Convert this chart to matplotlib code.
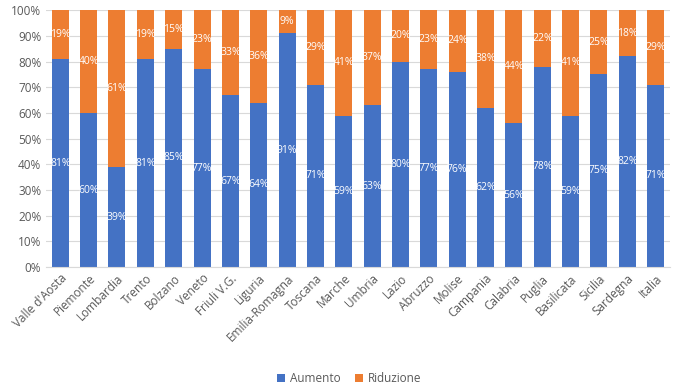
import numpy as np
import matplotlib.pyplot as plt
from matplotlib.ticker import PercentFormatter

regions = ["Valle d'Aosta", "Piemonte", "Lombardia", "Trento", "Bolzano", "Veneto",
           "Friuli V.G.", "Liguria", "Emilia-Romagna", "Toscana", "Marche", "Umbria",
           "Lazio", "Abruzzo", "Molise", "Campania", "Calabria", "Puglia",
           "Basilicata", "Sicilia", "Sardegna", "Italia"]
aumento = [81, 60, 39, 81, 85, 77, 67, 64, 91, 71, 59, 63, 80, 77, 76, 62, 56, 78, 59, 75, 82, 71]
riduzione = [19, 40, 61, 19, 15, 23, 33, 36, 9, 29, 41, 37, 20, 23, 24, 38, 44, 22, 41, 25, 18, 29]

plt.rcParams['font.family'] = ['Open Sans', 'DejaVu Sans']

blue = '#4472C4'
orange = '#ED7D31'
grey = '#595959'

fig = plt.figure(figsize=(6.78, 3.9), dpi=100)
ax = fig.add_axes([0.068, 0.315, 0.92, 0.659])

x = np.arange(len(regions))
a = np.array(aumento)
r = np.array(riduzione)
b1 = ax.bar(x, a, width=0.6, color=blue, label='Aumento', zorder=2)
b2 = ax.bar(x, r, width=0.6, bottom=a, color=orange, label='Riduzione', zorder=2)

# etichette percentuali al centro di ogni segmento
for i in range(len(x)):
    ax.text(x[i], a[i] / 2, f'{a[i]}%', ha='center', va='center', color='white', fontsize=7.5)
    ax.text(x[i], a[i] + r[i] / 2, f'{r[i]}%', ha='center', va='center', color='white', fontsize=7.5)

ax.set_ylim(0, 100)
ax.set_xlim(-0.5, len(regions) - 0.5)
ax.set_yticks(np.arange(0, 101, 10))
ax.yaxis.set_major_formatter(PercentFormatter(decimals=0))
ax.grid(axis='y', color='#d9d9d9', linewidth=0.8, zorder=0)
for s in ['top', 'right', 'left']:
    ax.spines[s].set_visible(False)
ax.spines['bottom'].set_color('#d9d9d9')
ax.tick_params(axis='both', length=0, colors=grey, labelsize=8.5)
ax.set_xticks(x)
ax.set_xticklabels(regions, rotation=45, ha='right', rotation_mode='anchor')

fig.legend(handles=[b1, b2], loc='center', bbox_to_anchor=(0.515, 0.03), ncol=2,
           frameon=False, fontsize=8.5, handlelength=0.7, handleheight=0.7,
           columnspacing=1.2, handletextpad=0.4, labelcolor=grey)

fig.savefig('out.png', dpi=100)
